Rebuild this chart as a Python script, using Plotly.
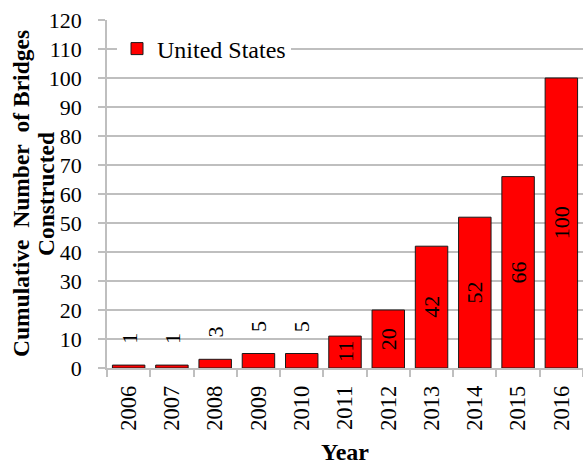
import plotly.graph_objects as go

# Cumulative number of bridges constructed in the United States
years = ["2006", "2007", "2008", "2009", "2010", "2011",
         "2012", "2013", "2014", "2015", "2016"]
bridges = [1, 1, 3, 5, 5, 11, 20, 42, 52, 66, 100]
y_ticks = list(range(0, 121, 10))
y_title_lines = ["Cumulative&nbsp; Number&nbsp; of Bridges", "Constructed"]

SERIF = "Liberation Serif"
GRID = "#bfbfbf"
ML, MR, MT, MB = 107, 0, 20, 97
W, H = 583, 465
PLOT_W = W - ML - MR

fig = go.Figure()
fig.add_trace(go.Bar(
    x=years,
    y=bridges,
    name="United States",
    marker=dict(color="#ff0000", line=dict(color="#1a1a1a", width=1)),
    hoverinfo="x+y",
))

# value labels: centred inside tall bars, above short ones
# (category positions given by index so numeric-looking names stay categories)
for i, v in enumerate(bridges):
    if v >= 10:
        fig.add_annotation(x=i, y=v / 2, text=str(v), textangle=-90,
                           showarrow=False, yanchor="middle",
                           font=dict(family=SERIF, size=22, color="black"))
    else:
        fig.add_annotation(x=i, y=v, text=str(v), textangle=-90,
                           showarrow=False, yanchor="middle", yshift=27,
                           font=dict(family=SERIF, size=22, color="black"))

# two-line y-axis title with tight line spacing
for line, px in zip(y_title_lines, (21, 46)):
    fig.add_annotation(x=(px - ML) / PLOT_W, xref="paper", y=0.5, yref="paper",
                       text=f"<b>{line}</b>", textangle=-90, showarrow=False,
                       xanchor="center", yanchor="middle",
                       font=dict(family=SERIF, size=23.5, color="black"))

fig.update_layout(
    width=W, height=H,
    margin=dict(l=ML, r=MR, t=MT, b=MB),
    paper_bgcolor="white",
    plot_bgcolor="white",
    bargap=0.25,
    font=dict(family=SERIF, size=22, color="black"),
    showlegend=True,
    legend=dict(
        x=(117 - ML) / PLOT_W, xanchor="left",
        y=110 / 120, yanchor="middle",
        bgcolor="white",
        borderwidth=0,
        font=dict(family=SERIF, size=24, color="black"),
    ),
    xaxis=dict(
        type="category",
        categoryorder="array", categoryarray=years,
        range=[-0.5, len(years) - 0.5],
        tickangle=-90,
        ticks="outside", ticklen=7, tickcolor=GRID, tickwidth=1.5,
        tickson="boundaries",
        showline=True, linecolor=GRID, linewidth=1.5,
        showgrid=False,
        ticklabelstandoff=7,
        tickfont=dict(family=SERIF, size=22.5, color="black"),
        title=dict(text="<b>Year</b>", standoff=15,
                   font=dict(family=SERIF, size=24, color="black")),
    ),
    yaxis=dict(
        range=[0, 120],
        tickvals=y_ticks,
        ticks="outside", ticklen=7, tickcolor=GRID, tickwidth=1.5,
        showline=True, linecolor=GRID, linewidth=1.5,
        showgrid=True, gridcolor=GRID, gridwidth=1.5,
        zeroline=False,
        ticklabelstandoff=12,
        tickfont=dict(family=SERIF, size=22, color="black"),
    ),
)

fig.write_html("out.html")
